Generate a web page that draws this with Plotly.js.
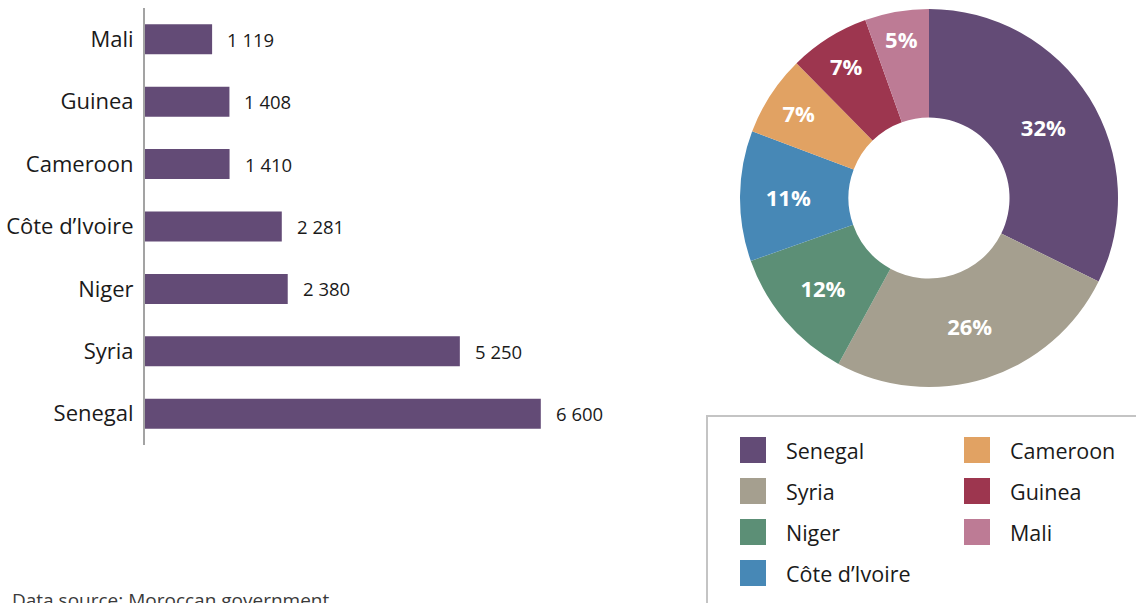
<!DOCTYPE html>
<html>
<head>
<meta charset="utf-8">
<script src="https://cdn.plot.ly/plotly-3.0.1.min.js"></script>
<style>html,body{margin:0;padding:0;background:#fff;}#chart{width:1136px;height:603px;}</style>
</head>
<body>
<div id="chart"></div>
<script>
// Data
const countries = ['Senegal', 'Syria', 'Niger', 'Côte d\u2019Ivoire', 'Cameroon', 'Guinea', 'Mali'];
const values = [6600, 5250, 2380, 2281, 1410, 1408, 1119];
const colors = ['#634b76', '#a59f8f', '#5c8f76', '#4788b6', '#e1a263', '#9d364f', '#bd7b95'];
const barColor = '#634b76';
const sourceText = 'Data source: Moroccan government';

const W = 1136, H = 603;
const px = x => x / W;
const py = y => 1 - y / H;
const fmt = v => String(v).replace(/\B(?=(\d{3})+(?!\d))/g, ' ');
const FONT = '"Open Sans", "DejaVu Sans", sans-serif';

const barTrace = {
  type: 'bar',
  orientation: 'h',
  x: values,
  y: countries,
  marker: {color: barColor},
  hoverinfo: 'x+y',
  showlegend: false,
  xaxis: 'x', yaxis: 'y'
};

const pieTrace = {
  type: 'pie',
  labels: countries,
  values: values,
  marker: {colors: colors, line: {width: 0}},
  hole: 0.426,
  sort: false,
  direction: 'clockwise',
  rotation: 0,
  textinfo: 'percent',
  texttemplate: '%{percent:.0%}',
  textposition: 'inside',
  insidetextorientation: 'horizontal',
  textfont: {family: FONT, size: 22, color: '#ffffff', weight: 'bold'},
  domain: {x: [px(740), px(1118)], y: [py(387), py(9)]},
  showlegend: false
};

const annotations = [];
// value labels for bars
values.forEach((v, i) => {
  annotations.push({
    xref: 'x', yref: 'y', x: v, y: countries[i],
    text: fmt(v), showarrow: false, xanchor: 'left', xshift: 13,
    font: {family: FONT, size: 18.5, color: '#1a1a1a'}
  });
});
// source
annotations.push({
  xref: 'paper', yref: 'paper', x: px(10), y: py(600),
  text: sourceText, showarrow: false, xanchor: 'left', yanchor: 'middle',
  font: {family: FONT, size: 19, color: '#3a3a3a'}
});

const shapes = [];
// legend border
shapes.push({
  type: 'rect', xref: 'paper', yref: 'paper',
  x0: px(707), x1: px(1150), y0: py(620), y1: py(416),
  line: {color: '#c4c4c4', width: 2}, fillcolor: 'rgba(0,0,0,0)'
});
// legend entries
countries.forEach((c, i) => {
  const col = i < 4 ? 0 : 1;
  const row = i < 4 ? i : i - 4;
  const sx = col === 0 ? 740 : 964;
  const cy = 450 + row * 41;
  shapes.push({
    type: 'rect', xref: 'paper', yref: 'paper',
    x0: px(sx), x1: px(sx + 26), y0: py(cy + 13), y1: py(cy - 13),
    line: {width: 0}, fillcolor: colors[i]
  });
  annotations.push({
    xref: 'paper', yref: 'paper', x: px(sx + 44), y: py(cy),
    text: c, showarrow: false, xanchor: 'left', yanchor: 'middle',
    font: {family: FONT, size: 21.5, color: '#1a1a1a'}
  });
});

const layout = {
  width: W, height: H,
  margin: {l: 0, r: 0, t: 0, b: 0},
  paper_bgcolor: '#ffffff', plot_bgcolor: '#ffffff',
  showlegend: false,
  bargap: 0.52,
  xaxis: {
    domain: [px(145), px(545)], range: [0, 6670],
    showgrid: false, zeroline: false, showline: false, showticklabels: false, ticks: ''
  },
  yaxis: {
    domain: [py(445), py(8)],
    type: 'category',
    showgrid: false, zeroline: false,
    showline: true, linecolor: '#a3a3a3', linewidth: 2,
    ticks: 'outside', ticklen: 5, tickcolor: 'rgba(0,0,0,0)',
    tickfont: {family: FONT, size: 22, color: '#1a1a1a'}
  },
  annotations: annotations,
  shapes: shapes
};

Plotly.newPlot('chart', [barTrace, pieTrace], layout, {displayModeBar: false, staticPlot: true});
</script>
</body>
</html>
